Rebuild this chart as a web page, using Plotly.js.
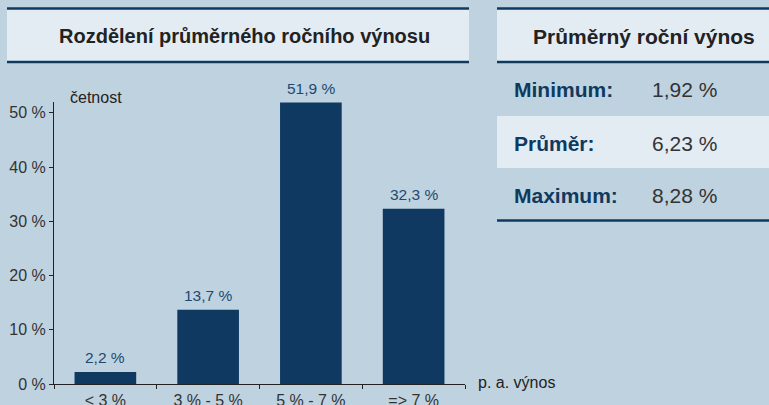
<!DOCTYPE html>
<html><head><meta charset="utf-8">
<script src="https://cdn.plot.ly/plotly-3.0.1.min.js"></script>
<style>html,body{margin:0;padding:0;background:#bfd2df;}</style>
</head><body>
<div id="chart" style="width:769px;height:405px;"></div>
<script>
const categories = ['< 3 %', '3 % - 5 %', '5 % - 7 %', '=> 7 %'];
const frequency = [2.2, 13.7, 51.9, 32.3];
const frequencyLabels = ['2,2 %', '13,7 %', '51,9 %', '32,3 %'];
const yTicks = [0, 10, 20, 30, 40, 50];
const yTickText = ['0 %', '10 %', '20 %', '30 %', '40 %', '50 %'];
const chartTitle = 'Rozdělení průměrného ročního výnosu';
const tableTitle = 'Průměrný roční výnos';
const statLabels = ['Minimum:', 'Průměr:', 'Maximum:'];
const statValues = ['1,92 %', '6,23 %', '8,28 %'];

const W = 769, H = 405;
const L = 54, R = 465, T = 102, B = 384;
const px = x => (x - L) / (R - L);
const py = y => (B - y) / (B - T);

const dark = '#0f3a60';
const light = '#e4ecf3';
const bg = '#bfd2df';
const font = 'Liberation Sans, Arial, sans-serif';

const shapes = [];
const annotations = [];
function rect(x0, y0, x1, y1, color) {
  shapes.push({type:'rect', xref:'paper', yref:'paper', x0:px(x0), x1:px(x1), y0:py(y1), y1:py(y0), fillcolor:color, line:{width:0}, layer:'below'});
}
function hline(x0, x1, y, w) {
  shapes.push({type:'line', xref:'paper', yref:'paper', x0:px(x0), x1:px(x1), y0:py(y), y1:py(y), line:{color:dark, width:w}});
}
// left title box
rect(7, 9, 469, 62, light);
hline(7, 469, 8.5, 2.5);
hline(7, 469, 62, 2.5);
annotations.push({xref:'paper', yref:'paper', x:px(244), y:py(36), text:'<b>'+chartTitle+'</b>', showarrow:false, font:{family:font, size:20, color:'#222'}, xanchor:'center', yanchor:'middle'});
// right table
rect(497, 9, 769, 62, light);
rect(497, 116, 769, 168, light);
hline(497, 769, 8.5, 2.5);
hline(497, 769, 62, 2.5);
hline(497, 769, 220.5, 2.5);
annotations.push({xref:'paper', yref:'paper', x:px(644), y:py(36), text:'<b>'+tableTitle+'</b>', showarrow:false, font:{family:font, size:21, color:'#222'}, xanchor:'center', yanchor:'middle'});
const rowY = [90, 143, 195];
statLabels.forEach((s, i) => {
  annotations.push({xref:'paper', yref:'paper', x:px(512), y:py(rowY[i]), text:'<b>'+s+'</b>', showarrow:false, font:{family:font, size:21, color:dark}, xanchor:'left', yanchor:'middle'});
  annotations.push({xref:'paper', yref:'paper', x:px(650), y:py(rowY[i]), text:statValues[i], showarrow:false, font:{family:font, size:21, color:'#333'}, xanchor:'left', yanchor:'middle'});
});
// axis labels
annotations.push({xref:'paper', yref:'paper', x:px(68), y:py(97), text:'četnost', showarrow:false, font:{family:font, size:16, color:'#222'}, xanchor:'left', yanchor:'middle'});
annotations.push({xref:'paper', yref:'paper', x:px(476), y:py(382), text:'p. a. výnos', showarrow:false, font:{family:font, size:16, color:'#222'}, xanchor:'left', yanchor:'middle'});
// value labels above bars
categories.forEach((c, i) => {
  annotations.push({xref:'x', yref:'y', x:c, y:frequency[i], text:frequencyLabels[i], showarrow:false, yanchor:'bottom', xanchor:'center', yshift:4, font:{family:font, size:15.5, color:'#1d4a72'}});
});

const trace = {
  type:'bar', x:categories, y:frequency, width:0.6,
  marker:{color:'#0f3961'},
  cliponaxis:false, hoverinfo:'none'
};
const layout = {
  width:W, height:H,
  margin:{l:L, r:W-R, t:T, b:H-B, pad:0},
  paper_bgcolor:bg, plot_bgcolor:bg,
  separators:', ',
  showlegend:false,
  font:{family:font, size:15, color:'#333'},
  xaxis:{type:'category', range:[-0.5, 3.5], showline:true, linecolor:'#222', linewidth:1,
    ticks:'outside', ticklen:4, tickcolor:'#222', tickson:'boundaries', showgrid:false, zeroline:false,
    ticklabelstandoff:2,
    tickfont:{family:font, size:16, color:'#333'}, fixedrange:true},
  yaxis:{range:[0, 52], tickvals:yTicks, ticktext:yTickText, showline:true, linecolor:'#222', linewidth:1,
    ticks:'outside', ticklen:4, tickcolor:'#222', showgrid:false, zeroline:false,
    tickfont:{family:font, size:16, color:'#333'}, fixedrange:true},
  shapes:shapes, annotations:annotations
};
Plotly.newPlot('chart', [trace], layout, {displayModeBar:false, staticPlot:true});
</script>
</body></html>
